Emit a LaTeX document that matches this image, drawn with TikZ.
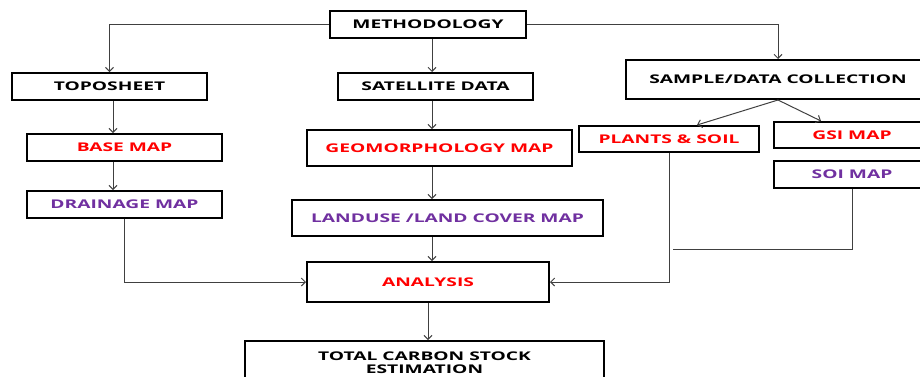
\documentclass[tikz,border=0pt]{standalone}
\usepackage{fontspec}
\setmainfont{Open Sans}[FakeStretch=1.6]
\usetikzlibrary{arrows.meta,calc}
\definecolor{mapred}{HTML}{FF0000}
\definecolor{mappurple}{HTML}{7030A0}
\definecolor{linegray}{HTML}{404040}

\begin{document}
\begin{tikzpicture}[
    x=1pt, y=-1pt,
    box/.style={rectangle, draw=black, line width=2pt, fill=white, inner sep=0pt,
        font=\fontsize{12}{14}\selectfont\bfseries},
    redbox/.style={box, text=mapred},
    purplebox/.style={box, text=mappurple},
    arrow/.style={-{Straight Barb[length=4pt,width=8pt]}, draw=linegray, line width=1pt},
    link/.style={draw=linegray, line width=1pt}
]
\useasboundingbox (0,0) rectangle (920,376);

% Columns for the straight arrows
\coordinate (lcol) at (113,0);
\coordinate (mcol) at (432,0);

% Top level
\node[box, minimum width=196, minimum height=27] (method) at (428,24.5) {METHODOLOGY};

% Data sources
\node[box, minimum width=195, minimum height=27] (topo) at (109.5,86.5) {TOPOSHEET};
\node[box, minimum width=195, minimum height=27] (sat) at (435.5,86.5) {SATELLITE DATA};
\node[box, minimum width=304, minimum height=39] (sample) at (778,79.5) {SAMPLE/DATA COLLECTION};

% Maps
\node[redbox, minimum width=195, minimum height=27] (base) at (124.5,147.5) {BASE MAP};
\node[purplebox, minimum width=195, minimum height=27] (drain) at (124.5,204.5) {DRAINAGE MAP};
\node[redbox, minimum width=265, minimum height=36] (geo) at (439.5,148) {GEOMORPHOLOGY MAP};
\node[purplebox, minimum width=311, minimum height=36] (land) at (447.5,218) {LANDUSE /LAND COVER MAP};
\node[redbox, minimum width=180, minimum height=26] (plants) at (669,139) {PLANTS \& SOIL};
\node[redbox, minimum width=156, minimum height=26] (gsi) at (852,135) {GSI MAP};
\node[purplebox, minimum width=156, minimum height=27] (soi) at (852,174.5) {SOI MAP};

% Results
\node[redbox, minimum width=242, minimum height=40] (analysis) at (428,282) {ANALYSIS};
\node[box, minimum width=359, minimum height=44, align=center] (total) at (424.5,363)
    {TOTAL CARBON STOCK\\[-1pt]ESTIMATION};

% Arrows from the top
\draw[arrow] (method.west) -| (topo.north);
\draw[arrow] (method.south -| mcol) -- (sat.north -| mcol);
\draw[arrow] (method.east) -| (sample.north);
\draw[arrow] (sample.south) -- ([xshift=28]plants.north);
\draw[arrow] (sample.south) -- ([xshift=-31]gsi.north);

% Left column
\draw[arrow] (topo.south -| lcol) -- (base.north -| lcol);
\draw[arrow] (base.south -| lcol) -- (drain.north -| lcol);
\draw[arrow] (drain.south) |- (analysis.west);

% Middle column
\draw[arrow] (sat.south -| mcol) -- (geo.north -| mcol);
\draw[arrow] (geo.south -| mcol) -- (land.north -| mcol);
\draw[arrow] (land.south -| mcol) -- (analysis.north -| mcol);

% Right column
\draw[arrow] (plants.south) |- (analysis.east);
\coordinate (soiend) at (673,249);
\draw[link] (soi.south) |- (soiend);

\draw[arrow] (analysis.south) -- (analysis.south |- total.north);
\end{tikzpicture}
\end{document}
